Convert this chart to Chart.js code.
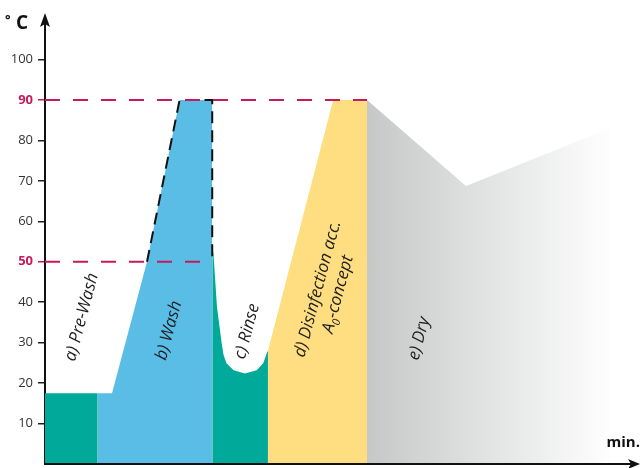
<!DOCTYPE html>
<html>
<head>
<meta charset="utf-8">
<script src="https://cdn.jsdelivr.net/npm/chart.js@4/dist/chart.umd.min.js"></script>
<style>
  html, body { margin: 0; padding: 0; background: #fff; }
  #wrap { width: 641px; height: 468px; }
</style>
</head>
<body>
<div id="wrap"><canvas id="chart" width="641" height="468"></canvas></div>
<script>
// x = time (arbitrary minutes, 0..100), y = temperature °C
const yTicks = [10, 20, 30, 40, 50, 60, 70, 80, 90, 100];
const markedTemps = [90, 50];

const preWash = [
  { x: 0, y: 17.5 }, { x: 8.9, y: 17.5 }, { x: 8.9, y: 0 },
];
const wash = [
  { x: 8.9, y: 17.5 }, { x: 11.3, y: 17.5 }, { x: 17.2, y: 50 },
  { x: 22.7, y: 90 }, { x: 28.2, y: 90 }, { x: 28.2, y: 0 },
];
const rinse = [
  { x: 28.2, y: 53 }, { x: 28.4, y: 52.2 }, { x: 29.0, y: 38.9 }, { x: 29.8, y: 29.8 },
  { x: 30.1, y: 27.0 }, { x: 30.6, y: 24.9 }, { x: 31.8, y: 23.2 }, { x: 33.7, y: 22.4 },
  { x: 35.7, y: 23.2 }, { x: 36.8, y: 24.9 }, { x: 37.5, y: 27.8 }, { x: 37.6, y: 28 },
  { x: 37.6, y: 0 },
];
const disinfection = [
  { x: 37.6, y: 28 }, { x: 48.6, y: 90 }, { x: 54.3, y: 90 }, { x: 54.3, y: 0 },
];
const dry = [
  { x: 54.3, y: 90 }, { x: 71.0, y: 68.7 }, { x: 95.3, y: 83 }, { x: 95.3, y: 0 },
];
const washOutline = [
  { x: 17.2, y: 50 }, { x: 22.7, y: 90 }, { x: 28.2, y: 90 }, { x: 28.2, y: 50 },
];
const line90 = [{ x: 0, y: 90 }, { x: 54.3, y: 90 }];
const line50 = [{ x: 0, y: 50 }, { x: 28.2, y: 50 }];

const phaseLabels = [
  { text: ["a) Pre-Wash"], x: 6.2, y: 36.3 },
  { text: ["b) Wash"], x: 20.9, y: 33 },
  { text: ["c) Rinse"], x: 34.1, y: 32.8 },
  { text: ["d) Disinfection acc.", "A|0|-concept"], x: 47.7, y: 42.6 },
  { text: ["e) Dry"], x: 63.1, y: 31 },
];

const RED = "#c8195a";
const FONT = "'Open Sans', 'Noto Sans', sans-serif";

function area(data, color) {
  return {
    data, backgroundColor: color, borderWidth: 0, pointRadius: 0,
    fill: "origin", tension: 0, order: 5,
  };
}
function dashed(data, color, dash) {
  return {
    data, borderColor: color, borderWidth: 2, borderDash: dash,
    pointRadius: 0, fill: false, order: 1,
  };
}

const dryArea = area(dry, (c) => {
  const { ctx, chartArea, scales } = c.chart;
  if (!chartArea) return "#ccc";
  const g = ctx.createLinearGradient(scales.x.getPixelForValue(54.3), 0, scales.x.getPixelForValue(96), 0);
  g.addColorStop(0, "#c6c8c8");
  g.addColorStop(1, "#ffffff");
  return g;
});

const overlay = {
  id: "overlay",
  afterDatasetsDraw(chart) {
    const { ctx, scales } = chart;
    ctx.save();
    ctx.fillStyle = "#1e1e1e";
    ctx.textAlign = "center";
    ctx.textBaseline = "middle";
    phaseLabels.forEach((l) => {
      const px = scales.x.getPixelForValue(l.x);
      const py = scales.y.getPixelForValue(l.y);
      ctx.save();
      ctx.translate(px, py);
      ctx.rotate(-75 * Math.PI / 180);
      const lh = 21;
      l.text.forEach((t, i) => {
        const dy = (i - (l.text.length - 1) / 2) * lh;
        ctx.font = "italic 17px " + FONT;
        if (t.includes("|")) {
          // subscript: A₀-concept
          const parts = t.split("|");
          const w0 = ctx.measureText(parts[0]).width;
          const w2 = ctx.measureText(parts[2]).width;
          ctx.font = "italic 11px " + FONT;
          const w1 = ctx.measureText(parts[1]).width;
          const x0 = -(w0 + w1 + w2) / 2;
          ctx.textAlign = "left";
          ctx.font = "italic 17px " + FONT;
          ctx.fillText(parts[0], x0, dy);
          ctx.font = "italic 11px " + FONT;
          ctx.fillText(parts[1], x0 + w0, dy + 6);
          ctx.font = "italic 17px " + FONT;
          ctx.fillText(parts[2], x0 + w0 + w1, dy);
          ctx.textAlign = "center";
        } else {
          ctx.fillText(t, 0, dy);
        }
      });
      ctx.restore();
    });
    ctx.restore();
  },
  afterDraw(chart) {
    const { ctx, chartArea } = chart;
    const { left, right, top, bottom } = chartArea;
    ctx.save();
    ctx.strokeStyle = "#111";
    ctx.fillStyle = "#111";
    ctx.lineWidth = 2;
    // x axis
    ctx.beginPath();
    ctx.moveTo(left - 1, bottom);
    ctx.lineTo(right - 4, bottom);
    ctx.stroke();
    ctx.beginPath();
    ctx.moveTo(right + 2, bottom);
    ctx.lineTo(right - 10, bottom - 5);
    ctx.lineTo(right - 7, bottom);
    ctx.lineTo(right - 10, bottom + 5);
    ctx.closePath();
    ctx.fill();
    // y axis arrow
    ctx.beginPath();
    ctx.moveTo(left, top - 6);
    ctx.lineTo(left - 5, top + 8);
    ctx.lineTo(left, top + 5);
    ctx.lineTo(left + 5, top + 8);
    ctx.closePath();
    ctx.fill();
    // unit labels
    ctx.textBaseline = "alphabetic";
    ctx.textAlign = "left";
    ctx.font = "bold 19px " + FONT;
    ctx.fillText("C", 16, 29);
    ctx.font = "bold 13px " + FONT;
    ctx.fillText("°", 5, 24);
    ctx.textAlign = "right";
    ctx.font = "bold 15px " + FONT;
    ctx.fillText("min.", 640, 447);
    ctx.restore();
  },
};

new Chart(document.getElementById("chart"), {
  type: "line",
  data: {
    datasets: [
      dashed(line90, RED, [15, 13]),
      dashed(line50, RED, [15, 13]),
      dashed(washOutline, "#111", [12, 7]),
      area(preWash, "#00a99a"),
      area(wash, "#5abde6"),
      area(rinse, "#00a99a"),
      area(disinfection, "#fede80"),
      dryArea,
    ],
  },
  options: {
    responsive: false,
    animation: false,
    layout: { padding: { top: 19, right: 3, bottom: 4, left: 0 } },
    plugins: { legend: { display: false }, tooltip: { enabled: false } },
    scales: {
      x: { type: "linear", min: 0, max: 100, display: false },
      y: {
        min: 0, max: 110,
        afterFit: (s) => { s.width = 45; s.paddingTop = 0; s.paddingBottom = 0; },
        afterBuildTicks: (s) => { s.ticks = yTicks.map((v) => ({ value: v })); },
        border: { display: true, color: "#111", width: 2 },
        grid: {
          drawOnChartArea: false, drawTicks: true, tickLength: 7, lineWidth: 1.5,
          color: (c) => (markedTemps.includes(c.tick && c.tick.value) ? RED : "#222"),
        },
        ticks: {
          padding: 5,
          color: (c) => (markedTemps.includes(c.tick.value) ? RED : "#333"),
          font: (c) => ({
            family: FONT, size: 13,
            weight: markedTemps.includes(c.tick && c.tick.value) ? "bold" : "normal",
          }),
        },
      },
    },
  },
  plugins: [overlay],
});
</script>
</body>
</html>
